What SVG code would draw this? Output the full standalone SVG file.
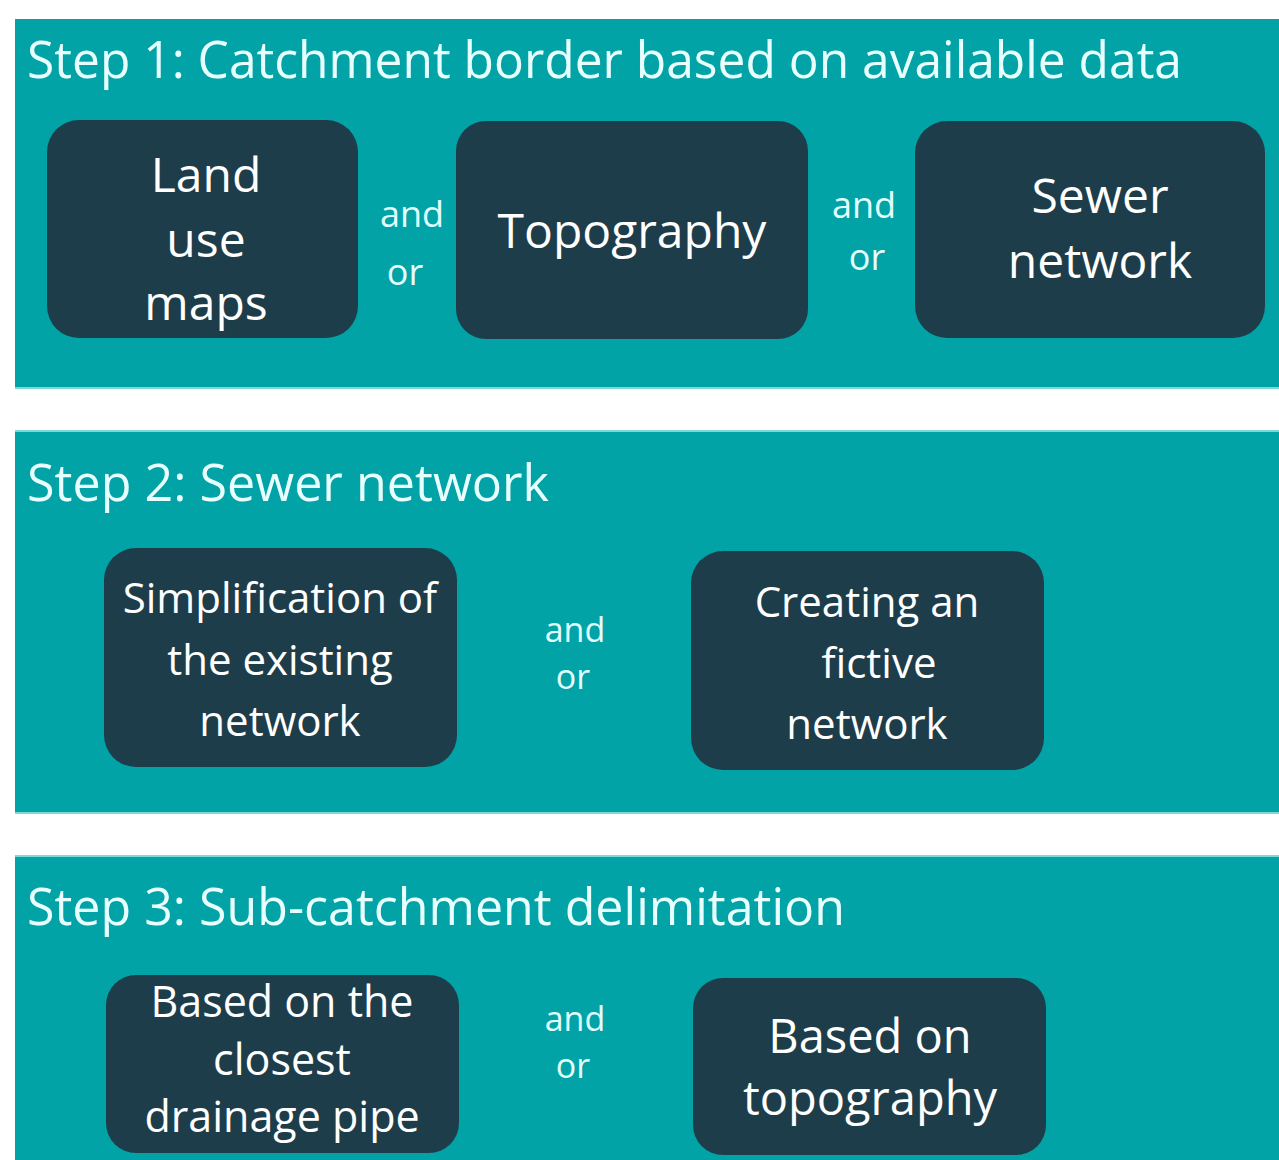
<svg xmlns="http://www.w3.org/2000/svg" width="1279" height="1160" viewBox="0 0 1279 1160">
<style>
.band{fill:#01A3A6}
.edge{fill:#7FD8D8}
.box{fill:#1E3D4A}
text{font-family:"Open Sans","Noto Sans","DejaVu Sans",sans-serif;text-anchor:middle}
.title{fill:#E8FFFF;font-size:52px;text-anchor:start}
.lbl{fill:#FFFFFF}
.conj{fill:#E3FFFF;font-size:36px}
.conj2{fill:#E3FFFF;font-size:34px}
</style>
<rect width="1279" height="1160" fill="#FFFFFF"/>
<g id="step1">
<rect class="band" x="15" y="19" width="1264" height="369"/>
<rect class="edge" x="15" y="387" width="1264" height="2"/>
<text class="title" x="27" y="78" textLength="1155" lengthAdjust="spacingAndGlyphs">Step 1: Catchment border based on available data</text>
</g>
<g id="step2">
<rect class="band" x="15" y="430" width="1264" height="383"/>
<rect class="edge" x="15" y="430" width="1264" height="2"/>
<rect class="edge" x="15" y="812" width="1264" height="2"/>
<text class="title" x="27" y="501" textLength="522" lengthAdjust="spacingAndGlyphs">Step 2: Sewer network</text>
</g>
<g id="step3">
<rect class="band" x="15" y="855" width="1264" height="305"/>
<rect class="edge" x="15" y="855" width="1264" height="2"/>
<text class="title" x="27" y="925" textLength="818" lengthAdjust="spacingAndGlyphs">Step 3: Sub-catchment delimitation</text>
</g>
<g id="land-use-maps">
<rect class="box" x="47" y="120" width="311" height="218" rx="32"/>
<text class="lbl" font-size="48" x="206" y="192">Land</text>
<text class="lbl" font-size="48" x="206" y="257">use</text>
<text class="lbl" font-size="48" x="206" y="320">maps</text>
</g>
<g id="topography">
<rect class="box" x="456" y="121" width="352" height="218" rx="30"/>
<text class="lbl" font-size="48" x="632" y="248">Topography</text>
</g>
<g id="sewer-network">
<rect class="box" x="915" y="121" width="350" height="217" rx="32"/>
<text class="lbl" font-size="48" x="1100" y="213">Sewer</text>
<text class="lbl" font-size="48" x="1100" y="278">network</text>
</g>
<g id="simplification">
<rect class="box" x="104" y="548" width="353" height="219" rx="32"/>
<text class="lbl" font-size="42" x="280" y="613">Simplification of</text>
<text class="lbl" font-size="42" x="280" y="675">the existing</text>
<text class="lbl" font-size="42" x="280" y="736">network</text>
</g>
<g id="fictive-network">
<rect class="box" x="691" y="551" width="353" height="219" rx="32"/>
<text class="lbl" font-size="42" x="867" y="617">Creating an</text>
<text class="lbl" font-size="42" x="879" y="678">fictive</text>
<text class="lbl" font-size="42" x="867" y="739">network</text>
</g>
<g id="closest-pipe">
<rect class="box" x="106" y="975" width="353" height="178" rx="30"/>
<text class="lbl" font-size="43" x="282" y="1017">Based on the</text>
<text class="lbl" font-size="43" x="282" y="1075">closest</text>
<text class="lbl" font-size="43" x="282" y="1132">drainage pipe</text>
</g>
<g id="based-topography">
<rect class="box" x="693" y="978" width="353" height="177" rx="30"/>
<text class="lbl" font-size="47" x="870" y="1053">Based on</text>
<text class="lbl" font-size="47" x="870" y="1115">topography</text>
</g>
<g id="connectors">
<text class="conj" x="412" y="227">and</text>
<text class="conj" x="405" y="285">or</text>
<text class="conj" x="864" y="218">and</text>
<text class="conj" x="867" y="270">or</text>
<text class="conj2" x="575" y="642">and</text>
<text class="conj2" x="573" y="689">or</text>
<text class="conj2" x="575" y="1031">and</text>
<text class="conj2" x="573" y="1078">or</text>
</g>
</svg>
